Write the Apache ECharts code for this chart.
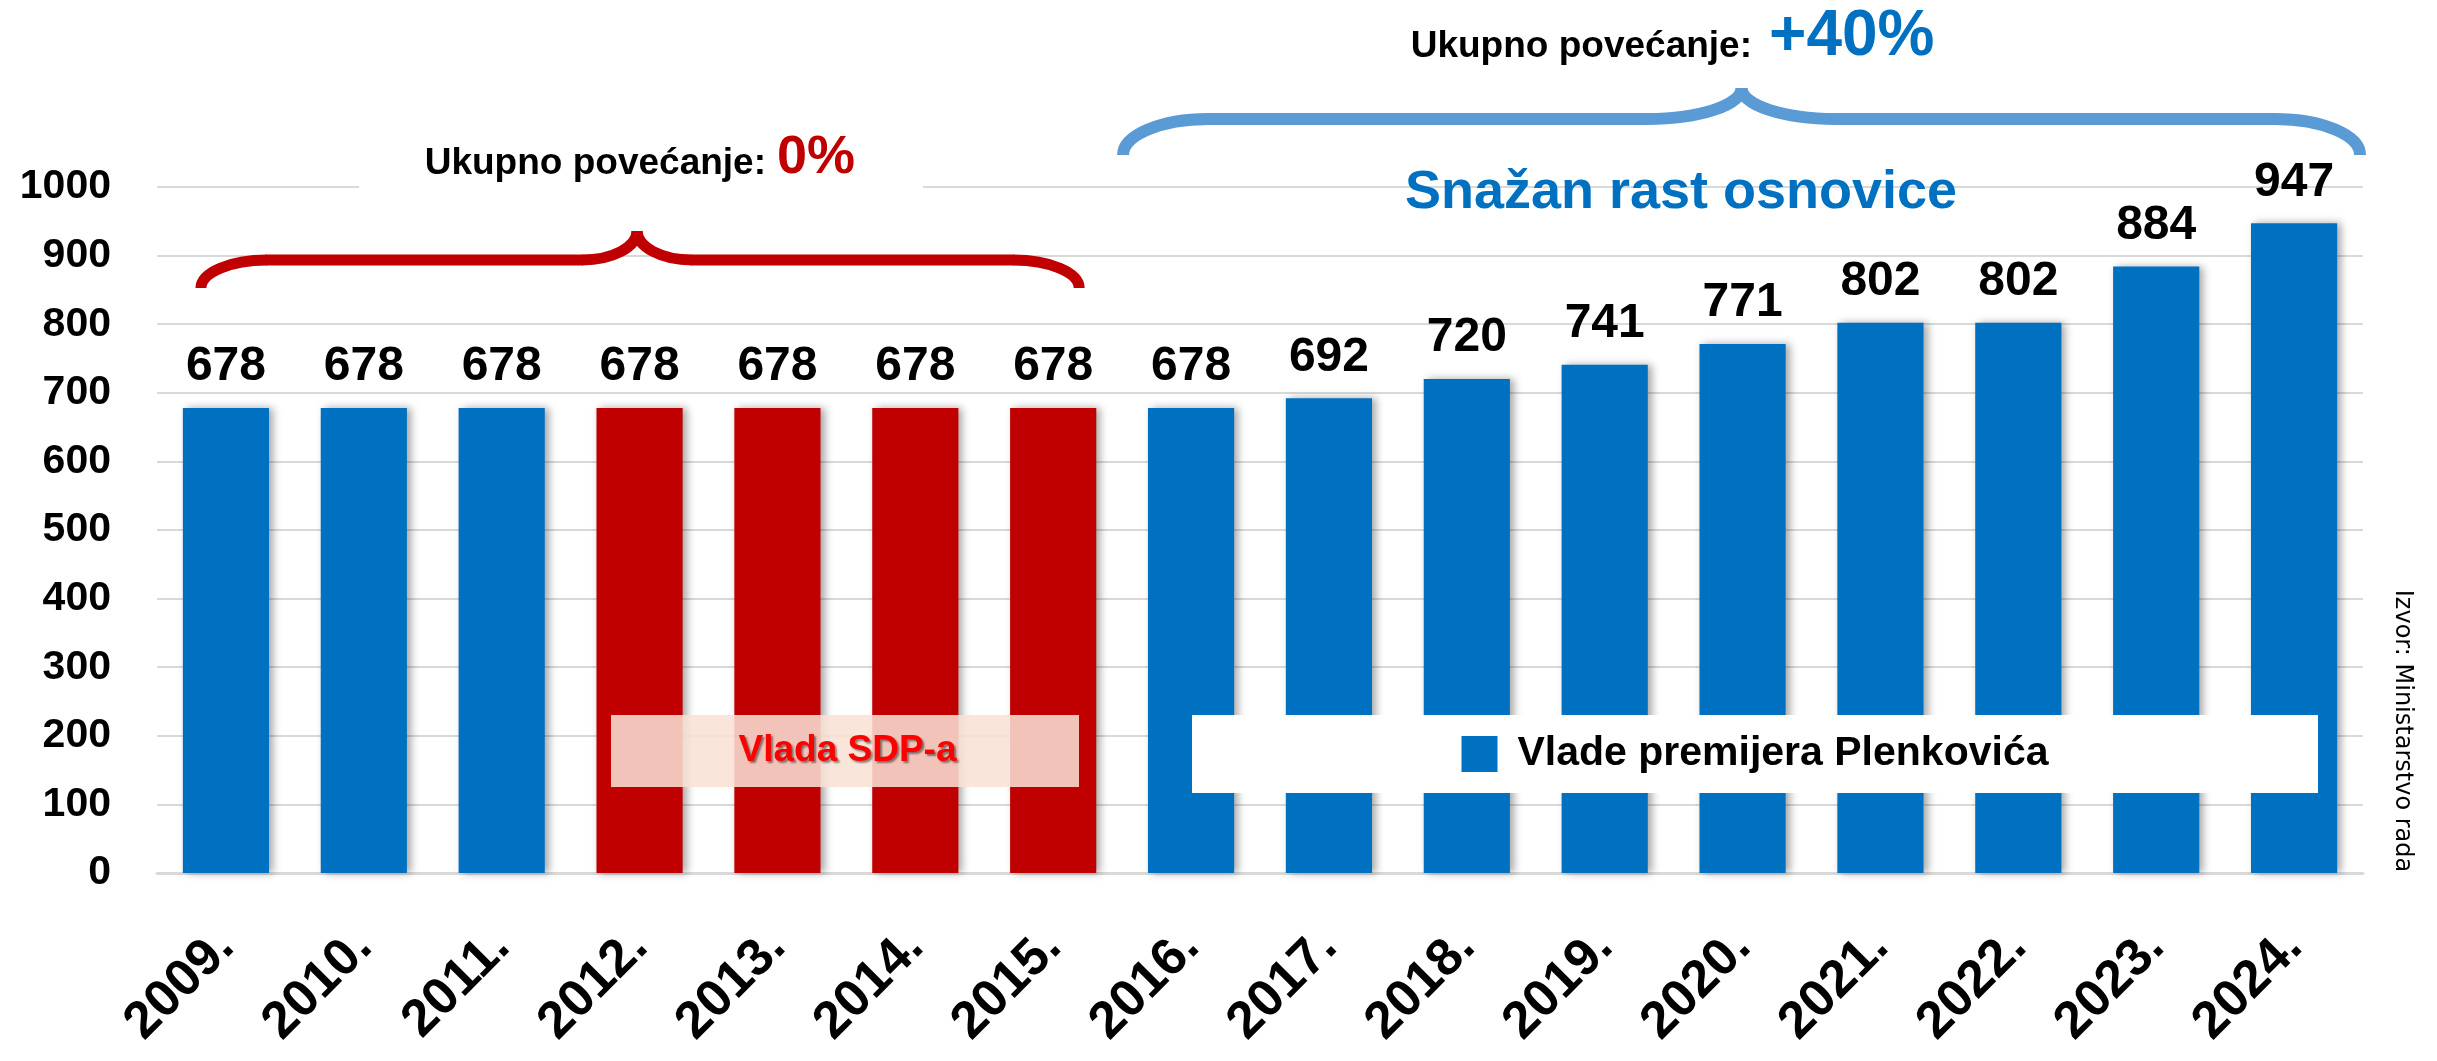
<!DOCTYPE html>
<html>
<head>
<meta charset="utf-8">
<title>Osnovica</title>
<script src="https://cdn.jsdelivr.net/npm/echarts@6/dist/echarts.min.js"></script>
<style>
    html, body { margin: 0; padding: 0; background: #fff; }
    #container { width: 2437px; height: 1061px; }
</style>
</head>
<body>
<div id="container"></div>
<script>
// podaci
const years = ['2009.', '2010.', '2011.', '2012.', '2013.', '2014.', '2015.', '2016.', '2017.', '2018.', '2019.', '2020.', '2021.', '2022.', '2023.', '2024.']
const values = [678, 678, 678, 678, 678, 678, 678, 678, 692, 720, 741, 771, 802, 802, 884, 947]
const sdpYears = ['2012.', '2013.', '2014.', '2015.']
const yMin = 0
const yMax = 1000
const yStep = 100

const seriesBlue = 'Vlade premijera Plenkovića'
const seriesRed = 'Vlada SDP-a'
const redSpan = ['2009.', '2015.']
const blueSpan = ['2016.', '2024.']
const totalLabel = 'Ukupno povećanje:'
const redTotal = '0%'
const blueTotal = '+40%'
const blueTitle = 'Snažan rast osnovice'
const sourceText = 'Izvor: Ministarstvo rada'

const FONT = '"Liberation Sans", Arial, sans-serif'
const BLUE = '#0070C0'
const RED = '#C00000'

const blueData = years.map((y, i) => (sdpYears.includes(y) ? '-' : values[i]))
const redData = years.map((y, i) => (sdpYears.includes(y) ? values[i] : '-'))

// mjerenje teksta za legende
const ctx = document.createElement('canvas').getContext('2d')
const measure = (text, size) => {
    ctx.font = 'bold ' + size + 'px ' + FONT
    return ctx.measureText(text).width
}

const valueLabel = {
    show: true,
    position: 'top',
    distance: 17,
    color: '#000',
    fontSize: 48,
    fontWeight: 'bold',
    fontFamily: FONT,
}
const barShadow = {
    shadowColor: 'rgba(0,0,0,0.35)',
    shadowBlur: 8,
    shadowOffsetX: 4,
    shadowOffsetY: 0,
}

// legenda SDP
const sdpW = measure(seriesRed, 37)
const sdpPadH = (468 - 5 - sdpW) / 2
// legenda Plenković
const plW = measure(seriesBlue, 41) + 15
const plPadH = (1126 - 36 - 5 - plW) / 2

let myChart = echarts.init(document.getElementById('container'), null, { renderer: 'canvas' })

let option = {
    animation: false,
    backgroundColor: '#fff',
    grid: {
        left: 157,
        right: 74,
        top: 187,
        bottom: 188,
        containLabel: false,
        outerBoundsMode: 'none',
    },
    legend: [
        {
            data: [seriesRed],
            selectedMode: false,
            left: 611,
            top: 715,
            icon: 'none',
            itemWidth: 0,
            itemHeight: 0,
            backgroundColor: 'rgba(249,225,212,0.87)',
            padding: [16, sdpPadH, 16, sdpPadH],
            textStyle: {
                color: '#FF0000',
                fontSize: 37,
                fontWeight: 'bold',
                fontFamily: FONT,
                lineHeight: 40,
                textShadowColor: 'rgba(0,0,0,0.45)',
                textShadowBlur: 2,
                textShadowOffsetX: 2,
                textShadowOffsetY: 2,
            },
        },
        {
            data: [seriesBlue],
            selectedMode: false,
            left: 1192,
            top: 715,
            icon: 'rect',
            itemWidth: 36,
            itemHeight: 36,
            backgroundColor: '#fff',
            padding: [17, plPadH, 17, plPadH],
            textStyle: {
                color: '#000',
                fontSize: 41,
                fontWeight: 'bold',
                fontFamily: FONT,
                lineHeight: 44,
                padding: [0, 0, 0, 15],
            },
        },
    ],
    xAxis: {
        type: 'category',
        data: years,
        axisTick: { show: false },
        axisLine: {
            lineStyle: { color: '#D9D9D9', width: 3 },
        },
        axisLabel: {
            rotate: 45,
            margin: 66,
            interval: 0,
            color: '#000',
            fontSize: 52,
            fontWeight: 'bold',
            fontFamily: FONT,
        },
    },
    yAxis: {
        type: 'value',
        min: yMin,
        max: yMax,
        interval: yStep,
        axisLine: { show: false },
        axisTick: { show: false },
        axisLabel: {
            margin: 46,
            color: '#000',
            fontSize: 41,
            fontWeight: 'bold',
            fontFamily: FONT,
            formatter: (v) => String(v),
        },
        splitLine: {
            lineStyle: { color: '#D9D9D9', width: 2 },
        },
    },
    series: [
        {
            name: seriesBlue,
            type: 'bar',
            data: blueData,
            barCategoryGap: '37.5%',
            barGap: '-100%',
            itemStyle: Object.assign({ color: BLUE }, barShadow),
            label: valueLabel,
        },
        {
            name: seriesRed,
            type: 'bar',
            data: redData,
            barCategoryGap: '37.5%',
            barGap: '-100%',
            itemStyle: Object.assign({ color: RED }, barShadow),
            label: valueLabel,
        },
    ],
}
myChart.setOption(option)

// vitičasta zagrada (otvorena prema dolje), od krivulja i ravnih dijelova
const brace = (x0, x1, xm, yEnd, yArm, yTip, rx, ry, rx2, color, width) => {
    const k = 0.5523
    const ry2 = yArm - yTip
    const style = { fill: 'none', stroke: color, lineWidth: width, lineCap: 'butt' }
    const curve = (x1_, y1_, cx1, cy1, cx2, cy2, x2_, y2_) => ({
        type: 'bezierCurve',
        z: 105,
        shape: { x1: x1_, y1: y1_, cpx1: cx1, cpy1: cy1, cpx2: cx2, cpy2: cy2, x2: x2_, y2: y2_ },
        style: style,
    })
    const line = (xa, xb) => ({
        type: 'line',
        z: 105,
        shape: { x1: xa, y1: yArm, x2: xb, y2: yArm },
        style: style,
    })
    return [
        curve(x0, yEnd, x0, yEnd - k * ry, x0 + rx - k * rx, yArm, x0 + rx, yArm),
        line(x0 + rx - 1, xm - rx2 + 1),
        curve(xm - rx2, yArm, xm - rx2 + k * rx2, yArm, xm, yTip + k * ry2, xm, yTip),
        curve(xm, yTip, xm, yTip + k * ry2, xm + rx2 - k * rx2, yArm, xm + rx2, yArm),
        line(xm + rx2 - 1, x1 - rx + 1),
        curve(x1 - rx, yArm, x1 - rx + k * rx, yArm, x1, yEnd - k * ry, x1, yEnd),
    ]
}

const px = (cat) => myChart.convertToPixel({ xAxisIndex: 0 }, cat)
const redX0 = px(redSpan[0]) - 25
const redX1 = px(redSpan[1]) + 26
const blueX0 = px(blueSpan[0]) - 68
const blueX1 = px(blueSpan[1]) + 66

const txt = (text, x, y, size, color, align) => ({
    type: 'text',
    x: x,
    y: y,
    z: 110,
    style: {
        text: text,
        fill: color,
        fontSize: size,
        fontWeight: 'bold',
        fontFamily: FONT,
        align: align,
        verticalAlign: 'bottom',
    },
})

myChart.setOption({
    graphic: [
        {
            // bijela podloga ispod natpisa
            type: 'rect',
            z: 100,
            shape: { x: 359, y: 130, width: 564, height: 70 },
            style: { fill: '#fff' },
        },
        txt(totalLabel, 766, 182, 37, '#000', 'right'),
        txt(redTotal, 777, 185, 54, RED, 'left'),
        ...brace(redX0, redX1, (redX0 + redX1) / 2 - 3, 288, 260, 231, 66, 28, 55, RED, 11),
        ...brace(blueX0, blueX1, (blueX0 + blueX1) / 2, 155, 119, 88, 85, 36, 94, '#5B9BD5', 12),
        txt(totalLabel, 1752, 65, 37, '#000', 'right'),
        txt(blueTotal, 1769, 69, 64, BLUE, 'left'),
        txt(blueTitle, 1681, 220, 54, BLUE, 'center'),
        {
            type: 'text',
            x: 2402,
            y: 731,
            z: 110,
            rotation: -Math.PI / 2,
            style: {
                text: sourceText,
                fill: '#000',
                fontSize: 24,
                fontFamily: '"DejaVu Sans", sans-serif',
                align: 'center',
                verticalAlign: 'middle',
            },
        },
    ],
})

window.addEventListener('resize', myChart.resize)
</script>
</body>
</html>
